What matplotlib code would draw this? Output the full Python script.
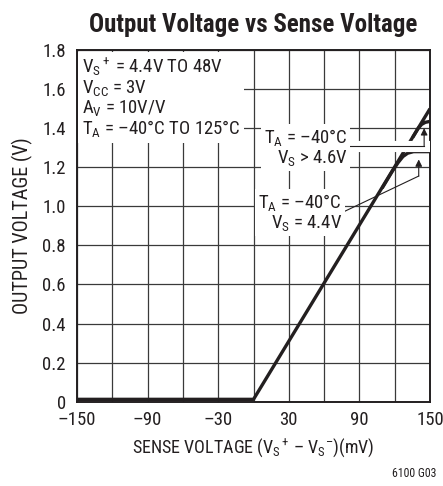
import numpy as np
import matplotlib
matplotlib.use('Agg')
import matplotlib.pyplot as plt
import matplotlib.patheffects as pe

# data
sense_mv = [-150, 0, 150]
vout_main = [0.012, 0.012, 1.5]

# T_A = -40C, V_S = 4.4V (saturates near 1.28V)
sense_lo = [110, 118, 123, 127, 131, 136, 150]
vout_lo = [1.10, 1.18, 1.225, 1.255, 1.272, 1.28, 1.28]

# T_A = -40C, V_S > 4.6V (saturates near 1.44V)
sense_hi = [136, 140, 143, 146, 150]
vout_hi = [1.36, 1.40, 1.42, 1.43, 1.435]

xticks = [-150, -90, -30, 30, 90, 150]
xtick_labels = ['\u2013150', '\u201390', '\u201330', '30', '90', '150']
yticks = [0, 0.2, 0.4, 0.6, 0.8, 1.0, 1.2, 1.4, 1.6, 1.8]
ytick_labels = ['0', '0.2', '0.4', '0.6', '0.8', '1.0', '1.2', '1.4', '1.6', '1.8']

plt.rcParams['font.family'] = ['Roboto Condensed', 'DejaVu Sans']
plt.rcParams['mathtext.fontset'] = 'custom'
plt.rcParams['mathtext.rm'] = 'Roboto Condensed'
plt.rcParams['mathtext.it'] = 'Roboto Condensed'

ink = '#231f20'
fig = plt.figure(figsize=(4.43, 4.86), dpi=100)
ax = fig.add_axes([0.1738, 0.1735, 0.9707 - 0.1738, 0.897 - 0.1735])

ax.set_xlim(-150, 150)
ax.set_ylim(0, 1.8)
ax.set_xticks(xticks)
ax.set_xticks(np.arange(-150, 151, 30), minor=True)
ax.set_xticklabels(xtick_labels)
ax.set_yticks(yticks)
ax.set_yticklabels(ytick_labels)
ax.tick_params(which='both', length=0, labelsize=13.5, colors=ink)
ax.tick_params(axis='x', pad=7)
ax.tick_params(axis='y', pad=8)
ax.grid(True, which='both', color='#3a3a3a', linewidth=0.9)
for s in ax.spines.values():
    s.set_linewidth(1.4)
    s.set_color(ink)

ax.plot(sense_mv, vout_main, color=ink, linewidth=2.4, solid_capstyle='butt', zorder=3)
ax.plot(sense_lo, vout_lo, color=ink, linewidth=2.4, zorder=3)
ax.plot(sense_hi, vout_hi, color=ink, linewidth=2.4, zorder=3)

ax.set_title('Output Voltage vs Sense Voltage', fontsize=18, fontweight='bold',
             color=ink, pad=13)
ax.set_xlabel('SENSE VOLTAGE ($\\mathregular{V_S}^+$\u2009\u2013\u2009$\\mathregular{V_S}^{\u2013}$)(mV)',
              fontsize=13, color=ink, labelpad=5)
ax.set_ylabel('OUTPUT VOLTAGE (V)', fontsize=14.5, color=ink, labelpad=7)

# conditions box
cond = ('$\\mathregular{V_S}^+$ = 4.4V TO 48V\n'
        '$\\mathregular{V_{CC}}$ = 3V\n'
        '$\\mathregular{A_V}$ = 10V/V\n'
        '$\\mathregular{T_A}$ = \u201340\u00b0C TO 125\u00b0C')
ax.text(-146, 1.77, cond, fontsize=13.5, color=ink, va='top', ha='left',
        linespacing=1.0, zorder=5,
        bbox=dict(boxstyle='square,pad=0.2', fc='white', ec='none'))

# annotation: V_S > 4.6V
white = [pe.Stroke(linewidth=8, foreground='white'), pe.Normal()]
ax.plot([82, 145], [1.309, 1.309], color=ink, linewidth=0.8, zorder=4, path_effects=white)
ax.annotate('', xy=(145, 1.40), xytext=(145, 1.309),
            arrowprops=dict(arrowstyle='-|>', color=ink, lw=0.8, mutation_scale=10,
                            shrinkA=0, shrinkB=0), zorder=4)
ax.text(80, 1.30, '$\\mathregular{T_A}$ = \u201340\u00b0C\n$\\mathregular{V_S}$ > 4.6V',
        fontsize=13.5, color=ink, ha='right', va='center', multialignment='right',
        linespacing=1.0, zorder=5,
        bbox=dict(boxstyle='square,pad=0.15', fc='white', ec='none'))

# annotation: V_S = 4.4V
ax.plot([78, 140.4], [0.976, 1.155], color=ink, linewidth=0.8, zorder=4)
ax.annotate('', xy=(140.4, 1.24), xytext=(140.4, 1.155),
            arrowprops=dict(arrowstyle='-|>', color=ink, lw=0.8, mutation_scale=10,
                            shrinkA=0, shrinkB=0), zorder=4)
ax.text(75, 0.97, '$\\mathregular{T_A}$ = \u201340\u00b0C\n$\\mathregular{V_S}$ = 4.4V',
        fontsize=13.5, color=ink, ha='right', va='center', multialignment='right',
        linespacing=1.0, zorder=5,
        bbox=dict(boxstyle='square,pad=0.15', fc='white', ec='none'))

fig.text(0.985, 0.012, '6100 G03', fontsize=8.5, color=ink, ha='right', va='bottom')

fig.savefig('out.png', dpi=100)
